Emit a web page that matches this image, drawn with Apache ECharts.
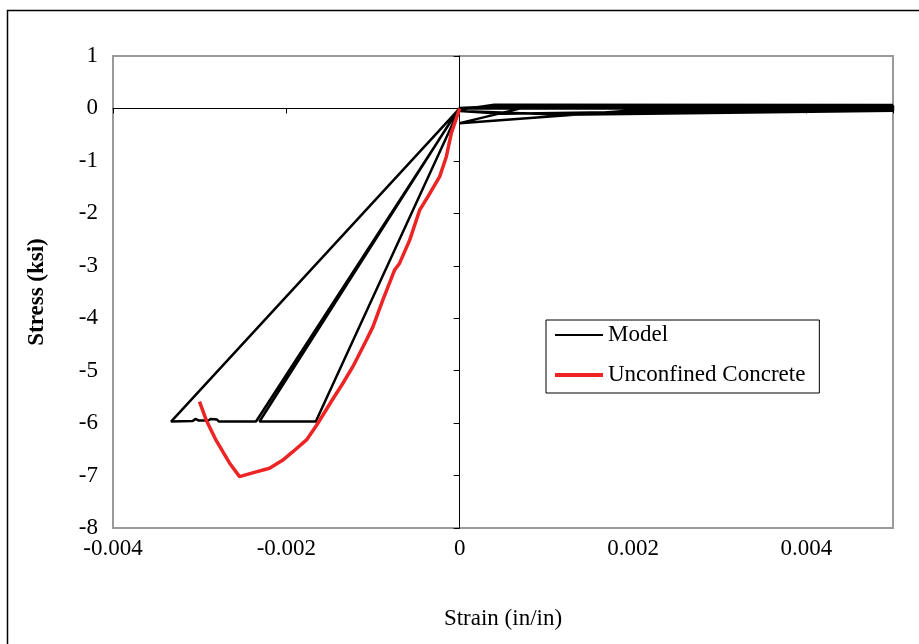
<!DOCTYPE html>
<html><head><meta charset="utf-8">
<script src="https://cdn.jsdelivr.net/npm/echarts@6/dist/echarts.min.js"></script>
<style>html,body{margin:0;padding:0;background:#fff}#c{width:919px;height:644px}</style>
</head><body><div id="c"></div>
<script>
// ---- data ----
var seriesNames = ['Model', 'Unconfined Concrete'];
var modelStrain = [0, -0.00166, -0.00231, -0.00002, 0.0004, 0.005, 0.005, 0.0003, 0,
  -0.00235, -0.00278, -0.0028, -0.00287, -0.0029, -0.00301, -0.00305, -0.00308, -0.00333,
  0, 0.005, 0.005, 0.0005, 0, 0.0012, 0.005, 0.005, 0.0008, 0, 0.0019, 0.005];
var modelStress = [0, -5.97, -5.97, -0.03, 0.07, 0.065, 0.035, 0.03, 0.01,
  -5.97, -5.97, -5.93, -5.92, -5.95, -5.95, -5.92, -5.96, -5.97,
  0, 0.005, -0.025, -0.1, -0.05, -0.12, -0.045, 0.05, 0.04, -0.28, -0.05, -0.03];
var concStrain = [0, -0.000096, -0.000154, -0.000231, -0.000366, -0.000462, -0.000577, -0.000693,
  -0.00075, -0.000886, -0.001, -0.001077, -0.001231, -0.001347, -0.001467, -0.001651, -0.001767,
  -0.001928, -0.002044, -0.002194, -0.00239, -0.00254, -0.002656, -0.00281, -0.002925, -0.003002];
var concStress = [0, -0.47, -0.92, -1.30, -1.68, -1.94, -2.51, -2.95,
  -3.08, -3.65, -4.16, -4.42, -4.92, -5.24, -5.55, -6.04, -6.32,
  -6.55, -6.71, -6.86, -6.95, -7.02, -6.76, -6.33, -5.94, -5.59];
var xMin = -0.004, xMax = 0.005, xStep = 0.002;
var yMin = -8, yMax = 1, yStep = 1;
var xTitle = 'Strain (in/in)', yTitle = 'Stress (ksi)';

function zip(a, b) { return a.map(function (v, i) { return [v, b[i]]; }); }

var FONT = 'Liberation Serif';
var gridPos = { left: 113, right: 26, top: 56, bottom: 116 };

var chart = echarts.init(document.getElementById('c'), null, { renderer: 'canvas' });
chart.setOption({
  animation: false,
  backgroundColor: '#fff',
  textStyle: { fontFamily: FONT, color: '#000' },
  graphic: [{
    type: 'rect', silent: true, z: 100,
    shape: { x: 7.5, y: 10.5, width: 1000, height: 1000 },
    style: { fill: null, stroke: '#000', lineWidth: 1.5 }
  }],
  grid: [
    Object.assign({ show: true, borderColor: '#9a9a9a', borderWidth: 2, backgroundColor: '#fff' }, gridPos),
    Object.assign({ show: false }, gridPos)
  ],
  legend: {
    data: [
      { name: seriesNames[0], icon: 'path://M0,0H48V2H0Z', itemStyle: { color: '#000' } },
      { name: seriesNames[1], icon: 'path://M0,0H48V4H0Z', itemStyle: { color: '#ee2424' } }
    ],
    orient: 'vertical',
    left: 546, top: 320,
    itemWidth: 48, itemHeight: 14, itemGap: 16,
    padding: [3, 14, 6, 9],
    borderColor: '#000', borderWidth: 1, backgroundColor: '#fff',
    textStyle: { fontFamily: FONT, fontSize: 23, color: '#000', lineHeight: 24 }
  },
  xAxis: [{
    type: 'value', gridIndex: 0, min: xMin, max: xMax, interval: xStep, position: 'bottom',
    axisLine: { show: false, onZero: false }, axisTick: { show: false }, splitLine: { show: false },
    axisLabel: { fontFamily: FONT, fontSize: 23, color: '#000', margin: 9, showMaxLabel: false,
      formatter: function (v) { return String(+v.toFixed(3)); } },
    name: xTitle, nameLocation: 'middle', nameGap: 79,
    nameTextStyle: { fontFamily: FONT, fontSize: 23, color: '#000' }
  }, {
    type: 'value', gridIndex: 1, min: xMin, max: xMax, interval: xStep,
    axisLine: { show: true, onZero: true, lineStyle: { color: '#000', width: 1 } },
    axisTick: { show: true, length: 5, lineStyle: { color: '#000' } },
    axisLabel: { show: false }, splitLine: { show: false }
  }],
  yAxis: [{
    type: 'value', gridIndex: 0, min: yMin, max: yMax, interval: yStep, position: 'left',
    axisLine: { show: false, onZero: false }, axisTick: { show: false }, splitLine: { show: false },
    axisLabel: { fontFamily: FONT, fontSize: 23, color: '#000', margin: 15 },
    name: yTitle, nameLocation: 'middle', nameGap: 64,
    nameTextStyle: { fontFamily: FONT, fontSize: 23, fontWeight: 'bold', color: '#000' }
  }, {
    type: 'value', gridIndex: 1, min: yMin, max: yMax, interval: yStep, position: 'left',
    axisLine: { show: true, onZero: true, lineStyle: { color: '#000', width: 1 } },
    axisTick: { show: true, length: 6, lineStyle: { color: '#000' } },
    axisLabel: { show: false }, splitLine: { show: false }
  }],
  series: [{
    name: seriesNames[0], type: 'line', xAxisIndex: 0, yAxisIndex: 0,
    data: zip(modelStrain, modelStress), showSymbol: false, symbol: 'none',
    lineStyle: { color: '#000', width: 2.5 }, itemStyle: { color: '#000' }, z: 3
  }, {
    name: seriesNames[1], type: 'line', xAxisIndex: 0, yAxisIndex: 0,
    data: zip(concStrain, concStress), showSymbol: false, symbol: 'none',
    lineStyle: { color: '#ee2424', width: 3.5 }, itemStyle: { color: '#ee2424' }, z: 4
  }]
});
</script></body></html>
